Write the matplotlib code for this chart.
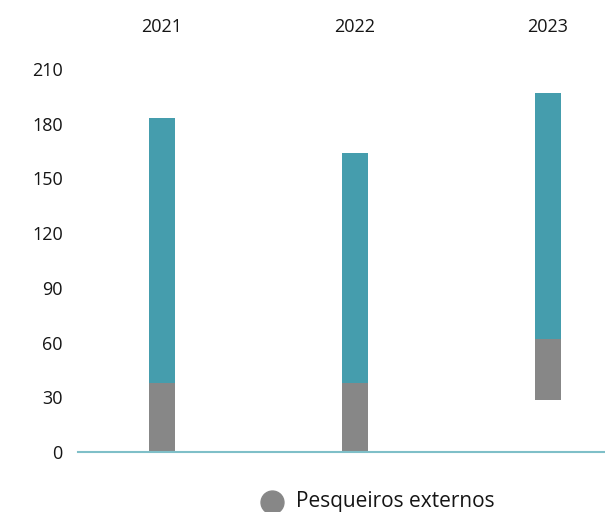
import matplotlib
matplotlib.use("Agg")
import matplotlib.pyplot as plt
from matplotlib.lines import Line2D
import matplotlib.transforms as mtransforms

plt.rcParams['font.family'] = ['Open Sans', 'DejaVu Sans']

years = ["2021", "2022", "2023"]
gray_base = [0, 0, 28.5]
gray_vals = [38, 38, 33.5]
teal_vals = [145, 126, 135]
yticks = [0, 30, 60, 90, 120, 150, 180, 210]
legend_label = "Pesqueiros externos"

teal = "#459DAD"
gray = "#878787"
txt = "#151515"

W, H = 605, 512
fig = plt.figure(figsize=(W / 100, H / 100), dpi=100)
ax = fig.add_axes([78 / W, 60 / H, 1 - 78 / W, (452 - 69) / H])

x = list(range(len(years)))
bw = 0.135
ax.bar(x, gray_vals, bottom=gray_base, width=bw, color=gray, zorder=2)
teal_base = [b + g for b, g in zip(gray_base, gray_vals)]
ax.bar(x, teal_vals, bottom=teal_base, width=bw, color=teal, zorder=2)

ax.set_xlim(-0.435, 2.295)
ax.set_ylim(0, 210)
ax.set_yticks(yticks)
ax.set_yticklabels([str(v) for v in yticks], fontsize=13)
ax.tick_params(axis='y', length=0, pad=11, colors=txt)
ax.set_xticks([])
for s in ["top", "right", "left"]:
    ax.spines[s].set_visible(False)
ax.spines["bottom"].set_color("#7FBFC8")
ax.spines["bottom"].set_linewidth(1.5)
ax.spines["bottom"].set_zorder(3)

trans = mtransforms.blended_transform_factory(ax.transData, fig.transFigure)
for xi, yr in zip(x, years):
    ax.text(xi, 1 - 27 / H, yr, transform=trans, ha="center", va="center",
            fontsize=13, color=txt)

# legend (only gray series entry visible)
fig.add_artist(Line2D([272 / W], [1 - 502 / H], marker="o", markersize=16.5,
                      color=gray, linestyle="none", transform=fig.transFigure))
fig.text(296 / W, 1 - 502 / H, legend_label, ha="left", va="center",
         fontsize=15, color=txt)

fig.savefig("out.png", dpi=100)
